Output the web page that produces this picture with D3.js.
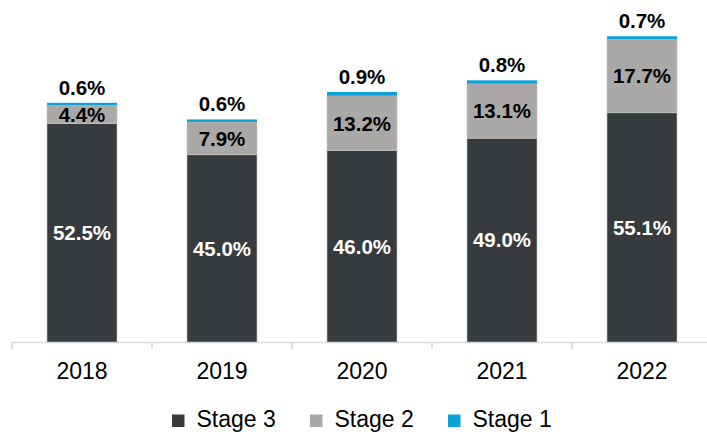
<!DOCTYPE html>
<html>
<head>
<meta charset="utf-8">
<script src="https://cdn.jsdelivr.net/npm/d3@7"></script>
<style>
  body { margin: 0; background: #fff; }
  svg { display: block; font-family: "Liberation Sans", Arial, sans-serif; }
</style>
</head>
<body>
<div id="container"></div>
<script>
// values
let years = ["2018", "2019", "2020", "2021", "2022"];
let stage3 = [52.5, 45.0, 46.0, 49.0, 55.1];
let stage2 = [4.4, 7.9, 13.2, 13.1, 17.7];
let stage1 = [0.6, 0.6, 0.9, 0.8, 0.7];
let seriesNames = ["Stage 3", "Stage 2", "Stage 1"];

let w = 707;
let h = 432;
let baseY = 342;

let colors = {
  "Stage 3": "#383b3e",
  "Stage 2": "#aaa9a7",
  "Stage 1": "#0ba3da"
};

let viz = d3.select("#container")
  .append("svg")
  .attr("width", w)
  .attr("height", h);

// 4.16 px per percentage point
let yScale = d3.scaleLinear().domain([0, 80]).range([baseY, baseY - 80 * 4.16]);

let xScale = d3.scaleBand()
  .domain(years)
  .range([12, 712])
  .paddingInner(0.5)
  .paddingOuter(0.25);

// build rows for the stack
let rows = years.map(function (d, i) {
  return { year: d, "Stage 3": stage3[i], "Stage 2": stage2[i], "Stage 1": stage1[i] };
});

let stacked = d3.stack().keys(seriesNames)(rows);

// axis line + ticks at category boundaries
let axisGroup = viz.append("g").attr("class", "xaxis");
axisGroup.append("line")
  .attr("x1", xScale.range()[0])
  .attr("x2", w)
  .attr("y1", baseY + 0.5)
  .attr("y2", baseY + 0.5)
  .attr("stroke", "#d9d9d9")
  .attr("stroke-width", 1.5);

let step = xScale.step();
let boundaries = d3.range(years.length + 1).map(function (i) { return xScale.range()[0] + i * step; });
axisGroup.selectAll(".tick")
  .data(boundaries)
  .enter()
  .append("line")
  .attr("class", "tick")
  .attr("x1", function (d) { return d; })
  .attr("x2", function (d) { return d; })
  .attr("y1", baseY)
  .attr("y2", baseY + 7)
  .attr("stroke", "#d9d9d9")
  .attr("stroke-width", 1.5);

axisGroup.selectAll(".yearLabel")
  .data(years)
  .enter()
  .append("text")
  .attr("class", "yearLabel")
  .attr("x", function (d) { return xScale(d) + xScale.bandwidth() / 2; })
  .attr("y", 379)
  .attr("text-anchor", "middle")
  .attr("font-size", "23px")
  .attr("fill", "#000")
  .text(function (d) { return d; });

// bars
let layers = viz.selectAll(".layer")
  .data(stacked)
  .enter()
  .append("g")
  .attr("class", "layer")
  .attr("fill", function (d) { return colors[d.key]; });

layers.selectAll("rect")
  .data(function (d) { return d; })
  .enter()
  .append("rect")
  .attr("x", function (d) { return xScale(d.data.year); })
  .attr("width", xScale.bandwidth())
  .attr("y", function (d) { return yScale(d[1]); })
  .attr("height", function (d) { return yScale(d[0]) - yScale(d[1]); })
  .attr("stroke", function (d) { return this.parentNode.__data__.key == "Stage 1" ? "none" : "#c4c4c4"; })
  .attr("stroke-width", 0.6);

// data labels
let fs = 20.5;
function fmt(v) { return v.toFixed(1) + "%"; }

stacked.forEach(function (layer) {
  viz.selectAll(".lbl" + layer.index)
    .data(layer)
    .enter()
    .append("text")
    .attr("x", function (d) { return xScale(d.data.year) + xScale.bandwidth() / 2; })
    .attr("y", function (d) {
      if (layer.key == "Stage 1") {
        return yScale(d[1]) - 8;
      }
      let mid = (yScale(d[0]) + yScale(d[1])) / 2;
      return mid + fs * 0.36;
    })
    .attr("text-anchor", "middle")
    .attr("font-size", fs + "px")
    .attr("font-weight", "bold")
    .attr("fill", layer.key == "Stage 3" ? "#fff" : "#000")
    .text(function (d) { return fmt(d.data[layer.key]); });
});

// legend
let legendX = [172, 310, 448];
let legend = viz.selectAll(".legendItem")
  .data(seriesNames)
  .enter()
  .append("g")
  .attr("class", "legendItem")
  .attr("transform", function (d, i) { return "translate(" + legendX[i] + ",0)"; });

legend.append("rect")
  .attr("x", 0)
  .attr("y", 414.5)
  .attr("width", 12.5)
  .attr("height", 12.5)
  .attr("fill", function (d) { return colors[d]; });

legend.append("text")
  .attr("x", 24.5)
  .attr("y", 427)
  .attr("font-size", "23px")
  .attr("fill", "#000")
  .text(function (d) { return d; });
</script>
</body>
</html>
